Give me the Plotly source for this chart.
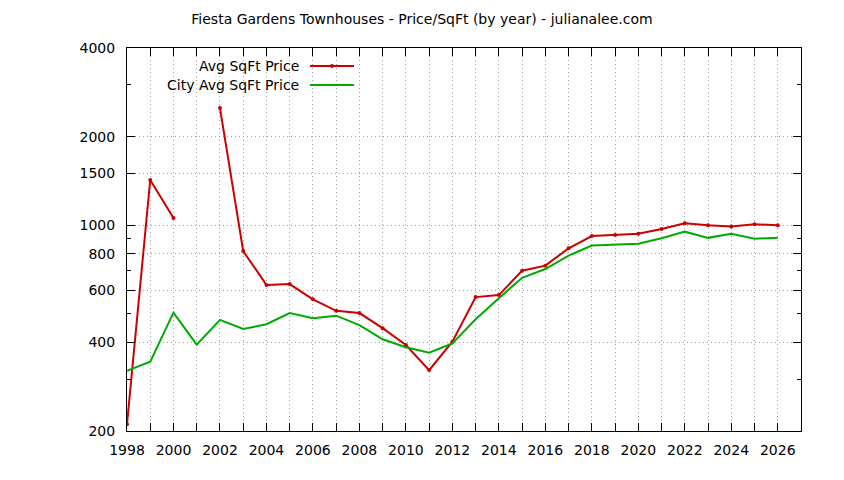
import plotly.graph_objects as go

# data
years = list(range(1998, 2027))
avg_price = [211, 1425, 1058, None, 2500, 817, 627, 631, 560, 512, 503, 447, 392, 322,
             402, 570, 579, 701, 729, 835, 919, 927, 935, 971, 1015, 1000, 990, 1008, 1000]
city_price = [320, 344, 505, 393, 477, 444, 461, 503, 483, 493, 458, 410, 385, 369,
              397, 479, 565, 663, 710, 788, 853, 861, 865, 903, 951, 906, 935, 900, 906]

y_ticks = [200, 400, 600, 800, 1000, 1500, 2000, 4000]
y_minor = [300, 500, 700, 900, 3000]
x_labels = [str(y) if y % 2 == 0 else "" for y in years]

RED = "#cc0000"
GREEN = "#00aa00"
FONT = "DejaVu Sans"
GRID = "#a0a0a0"

fig = go.Figure()
fig.add_trace(go.Scatter(
    x=years, y=avg_price, mode="lines+markers", name="Avg SqFt Price",
    line=dict(color=RED, width=2), marker=dict(color=RED, size=4),
    connectgaps=False,
))
fig.add_trace(go.Scatter(
    x=years, y=city_price, mode="lines", name="City Avg SqFt Price",
    line=dict(color=GREEN, width=2),
))

# plot box on screen is 127..801 px wide, 48..431 px tall;
# the page body adds an 8px offset, so the margins are shifted by that
OFF = 8
L, R, T, B = 127, 801, 48, 431
W, H = R - L, B - T


def px(x):
    return (x - L) / W


def py(y):
    return (B - y) / H


# gnuplot-style legend: text on the left, sample on the right
legend_rows = [("Avg SqFt Price", RED, True, 66), ("City Avg SqFt Price", GREEN, False, 85)]
for text, col, mark, ypix in legend_rows:
    fig.add_annotation(text=text, x=px(301), y=py(ypix), xref="paper", yref="paper",
                       xanchor="right", yanchor="middle", showarrow=False,
                       font=dict(family=FONT, size=14, color="black"))
    fig.add_shape(type="line", xref="paper", yref="paper",
                  x0=px(310), x1=px(354), y0=py(ypix), y1=py(ypix),
                  line=dict(color=col, width=2))
    if mark:
        fig.add_shape(type="circle", xref="paper", yref="paper",
                      x0=px(330), x1=px(334), y0=py(ypix + 2), y1=py(ypix - 2),
                      fillcolor=col, line=dict(color=col, width=0))

fig.update_layout(
    width=844, height=480,
    margin=dict(l=L - OFF, r=844 - R + OFF, t=T - OFF, b=480 - B + OFF),
    paper_bgcolor="white", plot_bgcolor="white",
    showlegend=False,
    font=dict(family=FONT, size=14, color="black"),
    title=dict(text="Fiesta Gardens Townhouses - Price/SqFt (by year) - julianalee.com",
               x=(422 - OFF) / 844, xanchor="center", y=1 - (19 - OFF) / 480,
               yanchor="middle",
               font=dict(family=FONT, size=14, color="black")),
)

fig.update_xaxes(
    range=[1998, 2027], tickmode="array", tickvals=years, ticktext=x_labels,
    ticks="inside", ticklen=8, tickcolor="black", tickwidth=1,
    showline=True, linecolor="black", linewidth=1, mirror="allticks",
    showgrid=True, gridcolor=GRID, griddash="1px,3px", gridwidth=1,
    zeroline=False, ticklabelstandoff=6,
)
fig.update_yaxes(
    type="log", range=[2.30103, 3.60206], tickmode="array",
    tickvals=y_ticks, ticktext=[str(v) for v in y_ticks],
    ticks="inside", ticklen=8, tickcolor="black", tickwidth=1,
    showline=True, linecolor="black", linewidth=1, mirror="allticks",
    showgrid=True, gridcolor=GRID, griddash="1px,3px", gridwidth=1,
    zeroline=False, ticklabelstandoff=8,
    minor=dict(tickmode="array", tickvals=y_minor, ticks="inside", ticklen=4,
               tickcolor="black", showgrid=False),
)

fig.write_html("out.html")
